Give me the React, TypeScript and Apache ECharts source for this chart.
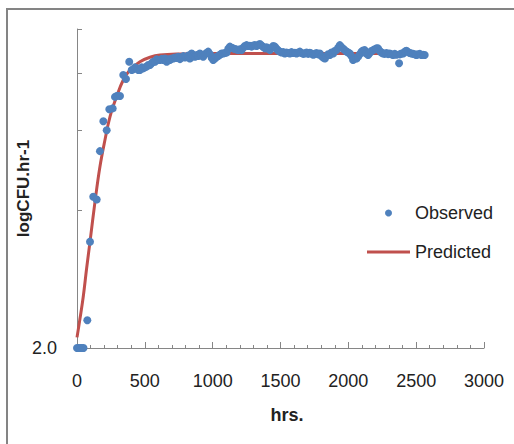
import React, { useEffect, useRef } from "react";
import * as echarts from "echarts";

// Observed (hours, logCFU)
const obsHours = [
  0, 12, 24, 36, 48, 76, 96, 120, 145, 169, 194, 219, 238, 263, 280, 297, 317, 341, 361, 385,
  403, 415, 427, 440, 452, 464, 477, 488, 501, 513, 525, 538, 550, 562, 575,
  587, 599, 611, 624, 636, 648, 661, 673, 685, 698, 710, 722, 734, 746, 759, 771, 784, 796, 808, 820,
  832, 845, 857, 870, 882, 894, 906, 918, 930, 943, 955, 967, 980, 992, 1004, 1016, 1029, 1041, 1053,
  1066, 1078, 1090, 1103, 1115, 1127, 1139, 1151, 1164, 1176, 1188, 1201, 1213, 1225, 1237, 1250,
  1262, 1274, 1287, 1299, 1311, 1324, 1336, 1348, 1360, 1373, 1385, 1397, 1409, 1422, 1434, 1446,
  1459, 1471, 1483, 1495, 1508, 1520, 1532, 1544, 1557, 1569, 1581, 1593, 1606, 1618, 1630, 1643,
  1655, 1667, 1679, 1692, 1704, 1716, 1728, 1741, 1753, 1765, 1778, 1790, 1802, 1815, 1827, 1839,
  1851, 1864, 1876, 1888, 1900, 1913, 1925, 1937, 1950, 1962, 1974, 1986, 1999, 2011, 2023, 2035,
  2048, 2060, 2072, 2085, 2097, 2109, 2121, 2133, 2146, 2158, 2170, 2183, 2195, 2207, 2219, 2232,
  2244, 2256, 2268, 2281, 2293, 2305, 2318, 2330, 2342, 2354, 2374, 2380, 2392, 2404, 2416, 2428,
  2441, 2453, 2465, 2477, 2490, 2502, 2514, 2527, 2539, 2551, 2563,
];
const obsValues = [
  2.0, 2.0, 2.0, 2.0, 2.0, 2.3, 3.42, 4.29, 4.23, 5.4, 6.28, 6.0, 6.67, 6.7, 7.1, 7.14, 7.13, 7.93, 7.77, 8.48,
  8.13, 8.16, 8.24, 8.2, 8.13, 8.13, 8.24, 8.2, 8.24, 8.27, 8.34, 8.34, 8.41, 8.48, 8.48,
  8.58, 8.55, 8.55, 8.6, 8.55, 8.62, 8.48, 8.58, 8.55, 8.62, 8.62, 8.66, 8.64, 8.69, 8.59, 8.66, 8.72, 8.66, 8.69, 8.75,
  8.62, 8.84, 8.72, 8.69, 8.77, 8.73, 8.84, 8.76, 8.69, 8.8, 8.86, 8.92, 8.81, 8.66, 8.55, 8.62, 8.69, 8.72, 8.78,
  8.84, 8.84, 8.86, 8.88, 9.05, 9.15, 9.1, 9.07, 9.04, 9.02, 8.99, 9.03, 8.99, 9.1, 9.18, 9.22,
  9.18, 9.19, 9.15, 9.2, 9.22, 9.18, 9.23, 9.27, 9.2, 9.13, 9.07, 9.12, 9.05, 8.99, 9.1, 9.18,
  9.15, 9.05, 8.97, 8.92, 8.88, 8.9, 8.84, 8.88, 8.86, 8.84, 8.9, 8.86, 8.87, 8.84, 8.88, 8.92,
  8.86, 8.82, 8.84, 8.88, 8.82, 8.87, 8.84, 8.78, 8.81, 8.86, 8.8, 8.84, 8.72, 8.66, 8.62, 8.72,
  8.8, 8.77, 8.88, 8.84, 8.95, 8.99, 9.1, 9.22, 9.12, 9.05, 8.99, 8.93, 8.88, 8.84, 8.72, 8.55,
  8.62, 8.62, 8.7, 8.8, 8.92, 8.97, 8.99, 8.84, 8.77, 8.86, 8.95, 8.99, 9.03, 9.07, 9.07, 8.95,
  8.88, 8.84, 8.82, 8.86, 8.81, 8.84, 8.8, 8.77, 8.82, 8.78, 8.41, 8.8, 8.84, 8.84, 8.92, 8.96,
  8.9, 8.86, 8.84, 8.82, 8.8, 8.77, 8.8, 8.82, 8.77, 8.78, 8.77,
];

// Predicted curve (hours, logCFU)
const predHours = [0, 22, 46, 71, 96, 133, 169, 206, 243, 292, 341, 390, 464, 538, 611, 759, 1000, 1500, 2000, 2563];
const predValues = [2.11, 2.32, 2.59, 2.99, 3.42, 4.19, 4.99, 5.71, 6.42, 7.11, 7.73, 8.13, 8.48, 8.67, 8.77, 8.82, 8.84, 8.84, 8.84, 8.84];

// Axis
const xTicks = [0, 500, 1000, 1500, 2000, 2500, 3000];
const yTickValues = [2, 4, 6, 8, 10];
const yLabelValues = [2];

const FONT = "'Liberation Sans', Arial, sans-serif";
const AXIS_COLOR = "#868686";
const TEXT_COLOR = "#222";

export default function App() {
  const ref = useRef<HTMLDivElement>(null);

  useEffect(() => {
    document.body.style.margin = "0";
    const chart = echarts.init(ref.current!, null, { renderer: "svg" });
    const lg = (v: number) => Math.log10(v);

    chart.setOption({
      animation: false,
      backgroundColor: "#fff",
      textStyle: { fontFamily: FONT },
      graphic: [
        {
          type: "rect",
          shape: { x: 7, y: 9, width: 600, height: 500 },
          style: { fill: "none", stroke: "#848484", lineWidth: 2 },
          silent: true,
        },
      ],
      grid: {
        left: 77,
        right: 30,
        top: 29,
        bottom: 96,
        containLabel: false,
        outerBoundsMode: "none",
      },
      legend: {
        orient: "vertical",
        left: 362,
        top: 198,
        itemWidth: 43,
        itemHeight: 7,
        itemGap: 19,
        data: [
          { name: "Observed", icon: "circle" },
          { name: "Predicted", icon: "path://M0 0H43V3H0Z" },
        ],
        textStyle: { fontSize: 18, color: TEXT_COLOR, fontFamily: FONT, lineHeight: 20 },
      },
      xAxis: {
        type: "value",
        min: xTicks[0],
        max: xTicks[xTicks.length - 1],
        interval: 500,
        name: "hrs.",
        nameLocation: "middle",
        nameGap: 58,
        nameMoveOverlap: false,
        nameTextStyle: { fontSize: 18, fontWeight: "bold", color: TEXT_COLOR, fontFamily: FONT, padding: [0, 0, 0, 13] },
        axisLine: { show: true, lineStyle: { color: AXIS_COLOR, width: 1 } },
        axisTick: { show: true, inside: true, length: 6, lineStyle: { color: AXIS_COLOR } },
        minorTick: { show: true, splitNumber: 5, length: 3, lineStyle: { color: AXIS_COLOR } },
        axisLabel: {
          fontSize: 18,
          color: TEXT_COLOR,
          margin: 24,
          fontFamily: FONT,
          formatter: (v: number) => String(v),
        },
        splitLine: { show: false },
      },
      yAxis: {
        type: "value",
        min: lg(2),
        max: lg(10),
        name: "logCFU.hr-1",
        nameLocation: "middle",
        nameGap: 45,
        nameMoveOverlap: false,
        nameTextStyle: { fontSize: 17, fontWeight: "bold", color: TEXT_COLOR, fontFamily: FONT },
        axisLine: { show: true, lineStyle: { color: AXIS_COLOR, width: 1 } },
        axisTick: {
          show: true,
          inside: true,
          length: 5,
          customValues: yTickValues.map(lg),
          lineStyle: { color: AXIS_COLOR },
        },
        axisLabel: {
          fontSize: 18,
          color: TEXT_COLOR,
          margin: 20,
          fontFamily: FONT,
          customValues: yLabelValues.map(lg),
          formatter: (v: number) => Math.pow(10, v).toFixed(1),
        },
        splitLine: { show: false },
      },
      series: [
        {
          name: "Predicted",
          type: "line",
          data: predHours.map((h, i) => [h, lg(predValues[i])]),
          smooth: 0.4,
          symbol: "none",
          lineStyle: { color: "#C0504D", width: 3 },
          itemStyle: { color: "#C0504D" },
          z: 2,
        },
        {
          name: "Observed",
          type: "scatter",
          data: obsHours.map((h, i) => [h, lg(obsValues[i])]),
          symbol: "circle",
          symbolSize: 8,
          itemStyle: { color: "#4F81BD", opacity: 1 },
          z: 3,
        },
      ],
    });
    return () => chart.dispose();
  }, []);

  return (
    <div
      ref={ref}
      style={{ position: "absolute", left: 0, top: 0, width: 514, height: 444 }}
    />
  );
}
